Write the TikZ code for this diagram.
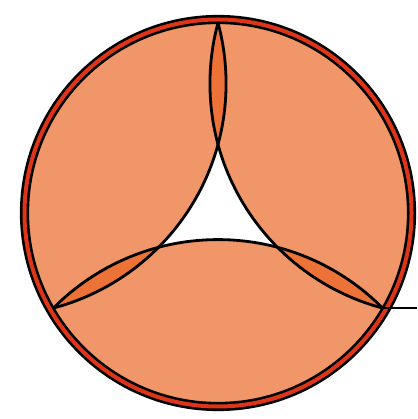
\documentclass[tikz,border=0pt]{standalone}
\usepackage{xcolor}

\definecolor{lobefill}{RGB}{240,150,105}
\definecolor{lensfill}{RGB}{236,114,56}
\definecolor{rimred}{RGB}{222,52,24}

\begin{document}
\begin{tikzpicture}[
  x=1pt, y=1pt,
  lobe/.style = {fill=lobefill},
  lens/.style = {fill=lensfill},
  seam/.style = {draw=black, line width=2.8pt},
  rim/.style  = {draw=black, line width=2.6pt, double=rimred, double distance=4pt},
]
\useasboundingbox (0,0) rectangle (417,419);

\begin{scope}[shift={(218,206)}]

% ---- centre, contact points, lobe centres ----------------------------------
\coordinate (o)  at (0,0);
\coordinate (ca) at (90:190);
\coordinate (cb) at (210:190);
\coordinate (cc) at (330:190);
\coordinate (ql) at (150:258.7);
\coordinate (qr) at (30:258.7);
\coordinate (qb) at (270:258.7);
\coordinate (tick) at (199,-95);

% ---- lobes and lenses ------------------------------------------------------
\begin{scope}
  \clip (o) circle (193.5);
  \fill[lobe] (ql) circle (232.1);
  \fill[lobe] (qr) circle (232.1);
  \fill[lobe] (qb) circle (232.1);
  \begin{scope}
    \clip (ql) circle (232.1);
    \fill[lens] (qr) circle (232.1);
    \fill[lens] (qb) circle (232.1);
  \end{scope}
  \begin{scope}
    \clip (qr) circle (232.1);
    \fill[lens] (qb) circle (232.1);
  \end{scope}
  \draw[seam] (ql) circle (232.1);
  \draw[seam] (qr) circle (232.1);
  \draw[seam] (qb) circle (232.1);
\end{scope}

% ---- rim -------------------------------------------------------------------
\draw[rim] (o) circle (193.5);
\draw[seam] (cc) -- (tick);

\end{scope}
\end{tikzpicture}
\end{document}
